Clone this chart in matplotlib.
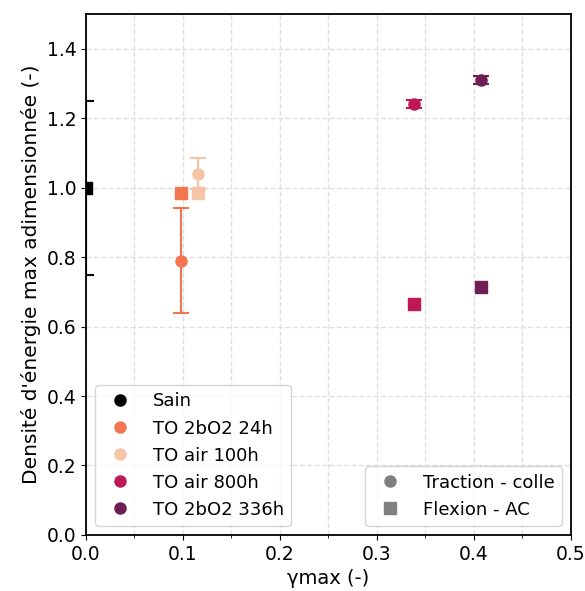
import numpy as np
import matplotlib
matplotlib.use("Agg")
import matplotlib.pyplot as plt
from matplotlib.lines import Line2D
from matplotlib.ticker import MultipleLocator

# Data
labels = ["Sain", "TO 2bO2 24h", "TO air 100h", "TO air 800h", "TO 2bO2 336h"]
colors = ["#000000", "#F37651", "#F6C4A6", "#BE1856", "#6D1F56"]

# Traction - colle (circles, with error bars)
gamma_traction = [0.0, 0.098, 0.115, 0.338, 0.407]
energy_traction = [1.0, 0.79, 1.04, 1.242, 1.31]
err_traction = [0.25, 0.152, 0.045, 0.012, 0.012]

# Flexion - AC (squares)
gamma_flexion = [0.0, 0.098, 0.115, 0.338, 0.407]
energy_flexion = [1.0, 0.985, 0.985, 0.665, 0.715]

fig, ax = plt.subplots(figsize=(5.85, 5.91), dpi=100)
fig.subplots_adjust(left=0.147, right=0.976, bottom=0.095, top=0.976)

for i in range(len(labels)):
    ax.errorbar(gamma_traction[i], energy_traction[i], yerr=err_traction[i],
                fmt="o", color=colors[i], markersize=8, capsize=6,
                elinewidth=1.5, capthick=1.5, label=labels[i], zorder=3)
    ax.plot(gamma_flexion[i], energy_flexion[i], "s", color=colors[i],
            markersize=8.5, zorder=3)

ax.set_xlim(0, 0.5)
ax.set_ylim(0, 1.5)
ax.xaxis.set_major_locator(MultipleLocator(0.1))
ax.xaxis.set_minor_locator(MultipleLocator(0.05))
ax.yaxis.set_major_locator(MultipleLocator(0.2))
ax.grid(True, which="both", linestyle="--", color="#e0e0e0", linewidth=1.0)
ax.set_axisbelow(True)
for s in ax.spines.values():
    s.set_linewidth(1.3)

ax.tick_params(labelsize=13.5)
ax.set_xlabel("γmax (-)", fontsize=14)
ax.set_ylabel("Densité d'énergie max adimensionnée (-)", fontsize=14.5)

# Legend for conditions
handles1 = [Line2D([], [], marker="o", linestyle="none", color=c, markersize=8)
            for c in colors]
leg1 = ax.legend(handles1, labels, loc="lower left", fontsize=13)
ax.add_artist(leg1)

# Legend for test types
handles2 = [Line2D([], [], marker="o", linestyle="none", color="gray", markersize=8),
            Line2D([], [], marker="s", linestyle="none", color="gray", markersize=8)]
ax.legend(handles2, ["Traction - colle", "Flexion - AC"], loc="lower right", fontsize=13)

fig.savefig("out.png", dpi=100)
